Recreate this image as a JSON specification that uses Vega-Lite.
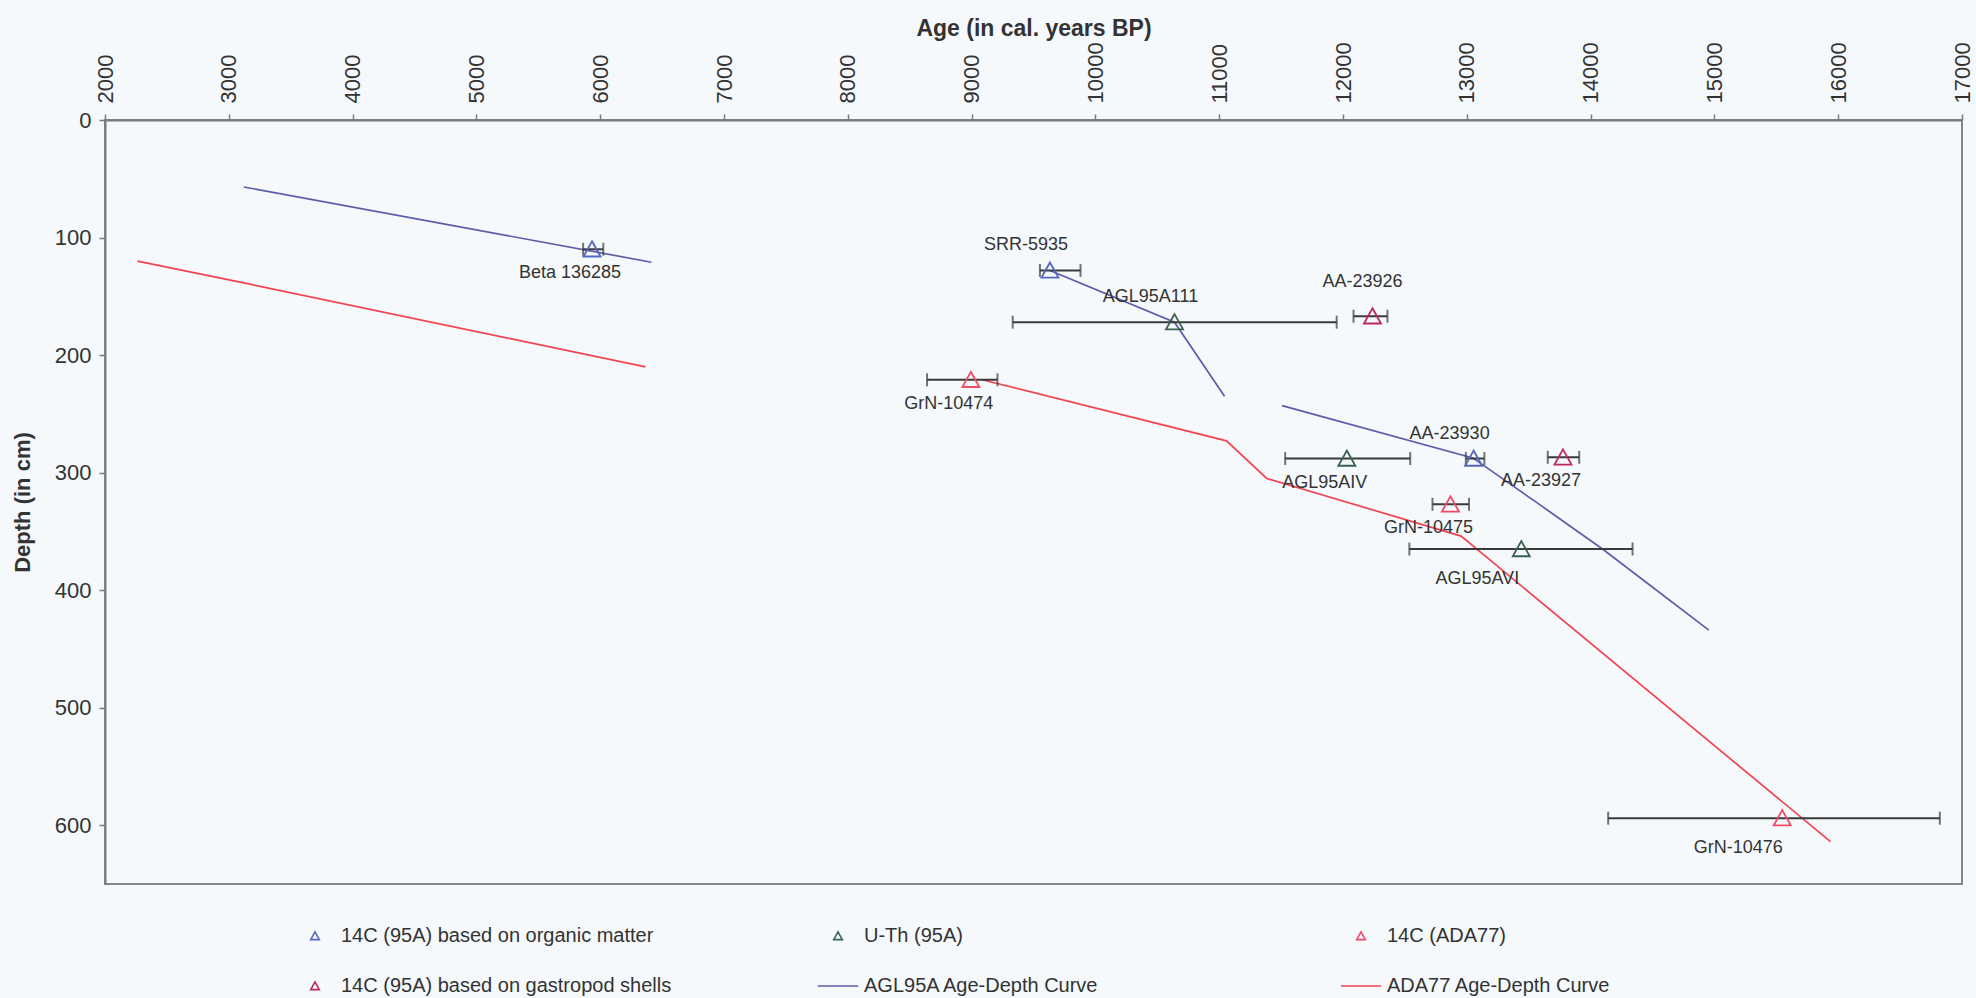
{
  "$schema": "https://vega.github.io/schema/vega-lite/v6.json",
  "width": 1857,
  "height": 764,
  "autosize": {"type": "none"},
  "padding": {"left": 105, "top": 120, "right": 14, "bottom": 114},
  "background": "#f5f9fb",
  "config": {
    "view": {"stroke": "#858585", "strokeWidth": 2, "fill": "#f5f9fb"},
    "font": "Liberation Sans",
    "axis": {"grid": false, "domainColor": "#7a7a7a", "domainWidth": 2, "tickColor": "#7a7a7a", "tickWidth": 1.5, "labelColor": "#333333", "titleColor": "#333333", "labelFont": "Liberation Sans", "titleFont": "Liberation Sans"}
  },
  "datasets": {
    "points": [
      {"series": "14C (95A) based on organic matter", "name": "Beta 136285", "age": 5934, "depth": 110, "lo": 5862, "hi": 6025},
      {"series": "14C (95A) based on organic matter", "name": "SRR-5935", "age": 9633, "depth": 128, "lo": 9552, "hi": 9880},
      {"series": "U-Th (95A)", "name": "AGL95A111", "age": 10639, "depth": 172, "lo": 9332, "hi": 11949},
      {"series": "14C (95A) based on gastropod shells", "name": "AA-23926", "age": 12238, "depth": 167, "lo": 12085, "hi": 12359},
      {"series": "14C (ADA77)", "name": "GrN-10474", "age": 8994, "depth": 221, "lo": 8640, "hi": 9209},
      {"series": "14C (95A) based on organic matter", "name": "AA-23930", "age": 13055, "depth": 288, "lo": 12992, "hi": 13142},
      {"series": "U-Th (95A)", "name": "AGL95AIV", "age": 12031, "depth": 288, "lo": 11533, "hi": 12543},
      {"series": "14C (95A) based on gastropod shells", "name": "AA-23927", "age": 13777, "depth": 287, "lo": 13654, "hi": 13908},
      {"series": "14C (ADA77)", "name": "GrN-10475", "age": 12868, "depth": 327, "lo": 12723, "hi": 13018},
      {"series": "U-Th (95A)", "name": "AGL95AVI", "age": 13440, "depth": 365, "lo": 12536, "hi": 14339},
      {"series": "14C (ADA77)", "name": "GrN-10476", "age": 15548, "depth": 594, "lo": 14142, "hi": 16821}
    ],
    "curves": [
      {"series": "AGL95A Age-Depth Curve", "seg": "a1", "age": 3121, "depth": 57},
      {"series": "AGL95A Age-Depth Curve", "seg": "a1", "age": 6414, "depth": 121},
      {"series": "AGL95A Age-Depth Curve", "seg": "a2", "age": 9633, "depth": 128},
      {"series": "AGL95A Age-Depth Curve", "seg": "a2", "age": 10639, "depth": 172},
      {"series": "AGL95A Age-Depth Curve", "seg": "a2", "age": 11043, "depth": 235},
      {"series": "AGL95A Age-Depth Curve", "seg": "a3", "age": 11508, "depth": 243},
      {"series": "AGL95A Age-Depth Curve", "seg": "a3", "age": 13048, "depth": 287.5},
      {"series": "AGL95A Age-Depth Curve", "seg": "a3", "age": 13572, "depth": 326},
      {"series": "AGL95A Age-Depth Curve", "seg": "a3", "age": 14096, "depth": 365},
      {"series": "AGL95A Age-Depth Curve", "seg": "a3", "age": 14955, "depth": 434},
      {"series": "ADA77 Age-Depth Curve", "seg": "r1", "age": 2262, "depth": 120},
      {"series": "ADA77 Age-Depth Curve", "seg": "r1", "age": 3121, "depth": 138.6},
      {"series": "ADA77 Age-Depth Curve", "seg": "r1", "age": 6366, "depth": 210},
      {"series": "ADA77 Age-Depth Curve", "seg": "r2", "age": 9085, "depth": 221},
      {"series": "ADA77 Age-Depth Curve", "seg": "r2", "age": 11059, "depth": 273},
      {"series": "ADA77 Age-Depth Curve", "seg": "r2", "age": 11384, "depth": 305},
      {"series": "ADA77 Age-Depth Curve", "seg": "r2", "age": 12954, "depth": 354},
      {"series": "ADA77 Age-Depth Curve", "seg": "r2", "age": 15938, "depth": 614}
    ]
  },
  "layer": [
    {
      "data": {"name": "curves"},
      "transform": [{"filter": {"field": "series", "equal": "AGL95A Age-Depth Curve"}}],
      "mark": {"type": "line", "strokeWidth": 1.7, "color": "#5a5caa"},
      "encoding": {
        "x": {"field": "age", "type": "quantitative", "scale": {"domain": [2000, 17000], "nice": false, "zero": false},
          "axis": {"orient": "top", "values": [2000, 3000, 4000, 5000, 6000, 7000, 8000, 9000, 10000, 11000, 12000, 13000, 14000, 15000, 16000, 17000], "format": "d", "labelAngle": -90, "labelAlign": "left", "labelBaseline": "middle", "labelFontSize": 22, "tickSize": 6, "labelPadding": 11, "labelOverlap": false, "labelFlush": false, "title": "Age (in cal. years BP)", "titleFontSize": 23, "titleFontWeight": "bold", "titlePadding": 1}},
        "y": {"field": "depth", "type": "quantitative", "scale": {"domain": [0, 650], "reverse": true, "nice": false, "zero": false},
          "axis": {"values": [0, 100, 200, 300, 400, 500, 600], "labelFontSize": 22, "tickSize": 6, "labelPadding": 8, "labelFlush": false, "title": "Depth (in cm)", "titleFontSize": 22, "titleFontWeight": "bold", "titlePadding": 20}},
        "detail": {"field": "seg", "type": "nominal"}
      }
    },
    {
      "data": {"name": "curves"},
      "transform": [{"filter": {"field": "series", "equal": "ADA77 Age-Depth Curve"}}],
      "mark": {"type": "line", "strokeWidth": 1.7, "color": "#f2434f"},
      "encoding": {
        "x": {"field": "age", "type": "quantitative", "scale": {"domain": [2000, 17000], "nice": false, "zero": false}},
        "y": {"field": "depth", "type": "quantitative", "scale": {"domain": [0, 650], "reverse": true, "nice": false, "zero": false}},
        "detail": {"field": "seg", "type": "nominal"}
      }
    },
    {
      "data": {"name": "points"},
      "mark": {"type": "rule", "color": "#3a3a3a", "strokeWidth": 2},
      "encoding": {
        "x": {"field": "lo", "type": "quantitative", "scale": {"domain": [2000, 17000], "nice": false, "zero": false}},
        "x2": {"field": "hi"},
        "y": {"field": "depth", "type": "quantitative", "scale": {"domain": [0, 650], "reverse": true, "nice": false, "zero": false}}
      }
    },
    {
      "data": {"name": "points"},
      "mark": {"type": "tick", "orient": "vertical", "color": "#3a3a3a", "size": 13, "thickness": 2},
      "encoding": {
        "x": {"field": "lo", "type": "quantitative", "scale": {"domain": [2000, 17000], "nice": false, "zero": false}},
        "y": {"field": "depth", "type": "quantitative", "scale": {"domain": [0, 650], "reverse": true, "nice": false, "zero": false}}
      }
    },
    {
      "data": {"name": "points"},
      "mark": {"type": "tick", "orient": "vertical", "color": "#3a3a3a", "size": 13, "thickness": 2},
      "encoding": {
        "x": {"field": "hi", "type": "quantitative", "scale": {"domain": [2000, 17000], "nice": false, "zero": false}},
        "y": {"field": "depth", "type": "quantitative", "scale": {"domain": [0, 650], "reverse": true, "nice": false, "zero": false}}
      }
    },
    {
      "data": {"name": "points"},
      "mark": {"type": "point", "filled": false, "strokeWidth": 1.8, "size": 665, "opacity": 1},
      "encoding": {
        "x": {"field": "age", "type": "quantitative", "scale": {"domain": [2000, 17000], "nice": false, "zero": false}},
        "y": {"field": "depth", "type": "quantitative", "scale": {"domain": [0, 650], "reverse": true, "nice": false, "zero": false}},
        "color": {"field": "series", "type": "nominal",
          "scale": {"domain": ["14C (95A) based on organic matter", "U-Th (95A)", "14C (ADA77)", "14C (95A) based on gastropod shells", "AGL95A Age-Depth Curve", "ADA77 Age-Depth Curve"],
                    "range": ["#5566c0", "#3a6050", "#f04a68", "#c0285a", "#5a5caa", "#f2434f"]},
          "legend": {"title": null, "orient": "none", "direction": "horizontal", "legendX": 200, "legendY": 806, "columns": 3, "gridAlign": "all", "columnPadding": 142, "rowPadding": 30, "symbolSize": 169, "symbolStrokeWidth": 1.6, "labelFontSize": 20, "labelFont": "Liberation Sans", "labelColor": "#333333", "labelOffset": 16, "labelLimit": 600}},
        "shape": {"field": "series", "type": "nominal",
          "scale": {"domain": ["14C (95A) based on organic matter", "U-Th (95A)", "14C (ADA77)", "14C (95A) based on gastropod shells", "AGL95A Age-Depth Curve", "ADA77 Age-Depth Curve"],
                    "range": ["M0,-0.62L0.66,0.56L-0.66,0.56Z", "M0,-0.62L0.66,0.56L-0.66,0.56Z", "M0,-0.62L0.66,0.56L-0.66,0.56Z", "M0,-0.62L0.66,0.56L-0.66,0.56Z", "M-3.1,0H3.1", "M-3.1,0H3.1"]},
          "legend": {"title": null, "orient": "none", "direction": "horizontal", "legendX": 200, "legendY": 806, "columns": 3, "gridAlign": "all", "columnPadding": 142, "rowPadding": 30, "symbolSize": 169, "symbolStrokeWidth": 1.6, "labelFontSize": 20, "labelFont": "Liberation Sans", "labelColor": "#333333", "labelOffset": 16, "labelLimit": 600}}
      }
    },
    {
      "data": {"name": "points"},
      "transform": [{"filter": {"field": "name", "oneOf": ["SRR-5935", "AGL95A111", "AA-23930"]}}],
      "mark": {"type": "text", "fontSize": 18, "color": "#333333", "dx": -24, "dy": -25, "align": "center", "baseline": "middle"},
      "encoding": {
        "x": {"field": "age", "type": "quantitative", "scale": {"domain": [2000, 17000], "nice": false, "zero": false}},
        "y": {"field": "depth", "type": "quantitative", "scale": {"domain": [0, 650], "reverse": true, "nice": false, "zero": false}},
        "text": {"field": "name"}
      }
    },
    {
      "data": {"name": "points"},
      "transform": [{"filter": {"field": "name", "oneOf": ["AA-23926"]}}],
      "mark": {"type": "text", "fontSize": 18, "color": "#333333", "dx": -10, "dy": -34, "align": "center", "baseline": "middle"},
      "encoding": {
        "x": {"field": "age", "type": "quantitative", "scale": {"domain": [2000, 17000], "nice": false, "zero": false}},
        "y": {"field": "depth", "type": "quantitative", "scale": {"domain": [0, 650], "reverse": true, "nice": false, "zero": false}},
        "text": {"field": "name"}
      }
    },
    {
      "data": {"name": "points"},
      "transform": [{"filter": {"field": "name", "oneOf": ["Beta 136285", "GrN-10474", "AGL95AIV", "AA-23927", "GrN-10475"]}}],
      "mark": {"type": "text", "fontSize": 18, "color": "#333333", "dx": -22, "dy": 24, "align": "center", "baseline": "middle"},
      "encoding": {
        "x": {"field": "age", "type": "quantitative", "scale": {"domain": [2000, 17000], "nice": false, "zero": false}},
        "y": {"field": "depth", "type": "quantitative", "scale": {"domain": [0, 650], "reverse": true, "nice": false, "zero": false}},
        "text": {"field": "name"}
      }
    },
    {
      "data": {"name": "points"},
      "transform": [{"filter": {"field": "name", "oneOf": ["AGL95AVI", "GrN-10476"]}}],
      "mark": {"type": "text", "fontSize": 18, "color": "#333333", "dx": -44, "dy": 30, "align": "center", "baseline": "middle"},
      "encoding": {
        "x": {"field": "age", "type": "quantitative", "scale": {"domain": [2000, 17000], "nice": false, "zero": false}},
        "y": {"field": "depth", "type": "quantitative", "scale": {"domain": [0, 650], "reverse": true, "nice": false, "zero": false}},
        "text": {"field": "name"}
      }
    }
  ]
}
